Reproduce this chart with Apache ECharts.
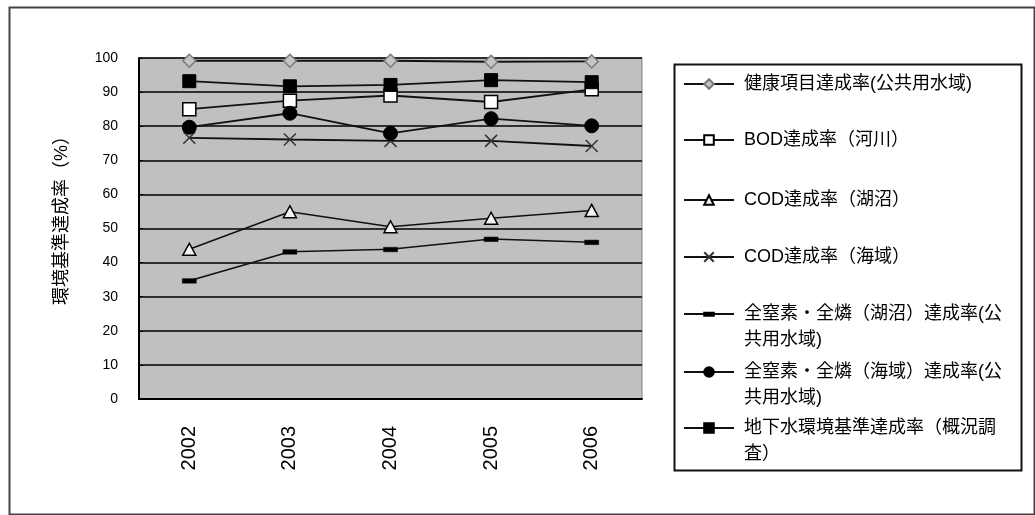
<!DOCTYPE html>
<html>
<head>
<meta charset="utf-8">
<script src="https://cdn.jsdelivr.net/npm/echarts@6/dist/echarts.min.js"></script>
<style>
  html, body { margin: 0; padding: 0; background: #fff; }
  #chart { width: 1035px; height: 515px; }
</style>
</head>
<body>
<div id="chart"></div>
<script>
// Survey years (category axis)
const years = ['2002', '2003', '2004', '2005', '2006'];

// Value axis range (%)
const yMin = 0;
const yMax = 100;
const yStep = 10;

// Attainment rates (%) per year
const healthRate   = [99.2, 99.2, 99.2, 98.9, 99.0];  // 健康項目(公共用水域)
const bodRiver     = [85.0, 87.5, 89.0, 87.1, 90.8];  // BOD 河川
const codLake      = [43.9, 54.9, 50.5, 53.0, 55.3];  // COD 湖沼
const codSea       = [76.6, 76.1, 75.7, 75.7, 74.2];  // COD 海域
const npLake       = [34.7, 43.2, 43.9, 46.9, 46.0];  // 全窒素・全燐 湖沼
const npSea        = [79.7, 83.8, 77.9, 82.2, 80.1];  // 全窒素・全燐 海域
const groundwater  = [93.2, 91.7, 92.1, 93.5, 92.9];  // 地下水 概況調査

// Series names and how they are broken in the legend
const seriesNames = [
  '健康項目達成率(公共用水域)',
  'BOD達成率（河川）',
  'COD達成率（湖沼）',
  'COD達成率（海域）',
  '全窒素・全燐（湖沼）達成率(公共用水域)',
  '全窒素・全燐（海域）達成率(公共用水域)',
  '地下水環境基準達成率（概況調査）'
];
const legendLabels = [
  '健康項目達成率(公共用水域)',
  'BOD達成率（河川）',
  'COD達成率（湖沼）',
  'COD達成率（海域）',
  '\n全窒素・全燐（湖沼）達成率(公\n共用水域)',
  '\n全窒素・全燐（海域）達成率(公\n共用水域)',
  '\n地下水環境基準達成率（概況調\n査）'
];
const seriesData = [healthRate, bodRiver, codLake, codSea, npLake, npSea, groundwater];

const FONT = '"Liberation Sans", Arial, "Noto Sans CJK JP", sans-serif';
const CROSS = 'path://M0,0L10,10M10,0L0,10';
const DASH = 'path://M0,0M0,14M0,5H14V9.5H0Z';

const markerStyles = [
  { symbol: 'diamond', symbolSize: 13, itemStyle: { color: '#c4c4c4', borderColor: '#7a7a7a', borderWidth: 1.5 } },
  { symbol: 'rect', symbolSize: 13, itemStyle: { color: '#ffffff', borderColor: '#000', borderWidth: 1.5 } },
  { symbol: 'triangle', symbolSize: [13, 12], itemStyle: { color: '#f4f4f4', borderColor: '#000', borderWidth: 1.5 } },
  { symbol: CROSS, symbolSize: 12, itemStyle: { color: 'none', borderColor: '#333', borderWidth: 1.5 } },
  { symbol: DASH, symbolSize: 14, itemStyle: { color: '#000', borderColor: '#000', borderWidth: 0.5 } },
  { symbol: 'circle', symbolSize: 14, itemStyle: { color: '#000', borderColor: '#000', borderWidth: 1 } },
  { symbol: 'rect', symbolSize: 13, itemStyle: { color: '#000', borderColor: '#000', borderWidth: 1 } }
];

const series = seriesNames.map((name, i) => Object.assign({
  name: name,
  type: 'line',
  data: seriesData[i],
  showAllSymbol: true,
  lineStyle: { color: '#111', width: i === 2 || i === 4 ? 1.5 : 1.8 },
  emphasis: { disabled: true },
  z: 3 + i
}, markerStyles[i]));

// Legend symbol centre rows
const legendRows = [84, 140, 200, 257, 314, 372, 428];
const legends = seriesNames.map((name, i) => {
  const multi = legendLabels[i].indexOf('\n') === 0;
  return {
    data: [name],
    left: 683,
    top: legendRows[i] - (multi ? 39 : 13),
    padding: 0,
    itemWidth: 50,
    itemHeight: 12,
    selectedMode: false,
    formatter: () => legendLabels[i],
    textStyle: {
      fontFamily: FONT,
      fontSize: 18,
      color: '#000',
      lineHeight: 26,
      padding: [0, 0, 0, 5]
    }
  };
});

const chart = echarts.init(document.getElementById('chart'), null, { renderer: 'canvas' });
chart.setOption({
  animation: false,
  backgroundColor: '#ffffff',
  grid: {
    left: 139, right: 393, top: 58, bottom: 116,
    show: true,
    backgroundColor: '#c0c0c0',
    borderColor: '#808080',
    borderWidth: 1
  },
  legend: legends,
  xAxis: {
    type: 'category',
    data: years,
    boundaryGap: true,
    axisLine: { lineStyle: { color: '#000', width: 2 } },
    axisTick: { inside: true, length: 5, lineStyle: { color: '#000', width: 1.5 } },
    axisLabel: {
      rotate: 90,
      margin: 27,
      fontFamily: FONT,
      fontSize: 20,
      color: '#000'
    },
    splitLine: { show: false }
  },
  yAxis: {
    type: 'value',
    min: yMin,
    max: yMax,
    interval: yStep,
    axisLine: { show: true, lineStyle: { color: '#000', width: 2 } },
    axisTick: { show: true, inside: true, length: 4, lineStyle: { color: '#000' } },
    axisLabel: {
      margin: 21,
      fontFamily: FONT,
      fontSize: 14,
      color: '#000'
    },
    splitLine: { show: true, lineStyle: { color: '#000', width: 1.6 } }
  },
  graphic: [
    {
      type: 'rect',
      left: 7, top: 5,
      shape: { width: 1025, height: 507 },
      style: { fill: 'none', stroke: '#444', lineWidth: 2 },
      silent: true
    },
    {
      type: 'rect',
      left: 672, top: 62,
      shape: { width: 347, height: 406 },
      style: { fill: 'none', stroke: '#111', lineWidth: 2 },
      silent: true
    },
    {
      type: 'text',
      x: 62, y: 216,
      rotation: Math.PI / 2,
      style: {
        text: '環境基準達成率（%）',
        fontFamily: FONT,
        fontSize: 18,
        fill: '#000',
        textAlign: 'center',
        textVerticalAlign: 'middle'
      },
      silent: true
    }
  ],
  series: series
});
</script>
</body>
</html>
